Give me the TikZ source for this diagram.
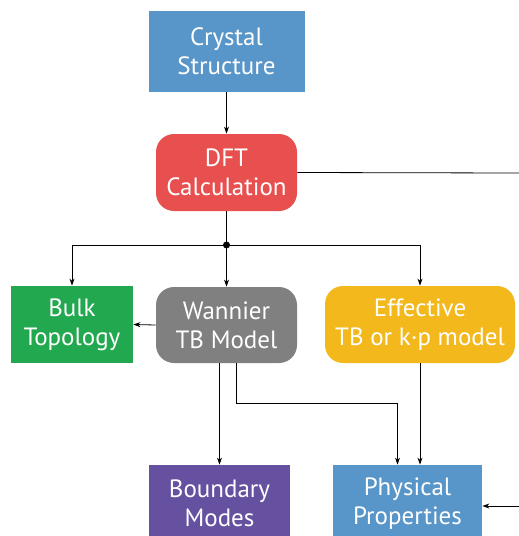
\documentclass[tikz,border=0pt]{standalone}
\usepackage{fontspec}
\setmainfont{PT Sans}
\usetikzlibrary{arrows.meta}

\definecolor{structblue}{HTML}{5895C9}
\definecolor{dftred}{HTML}{E85050}
\definecolor{bulkgreen}{HTML}{22A84F}
\definecolor{wangray}{HTML}{808080}
\definecolor{effyellow}{HTML}{F2B81C}
\definecolor{bndpurple}{HTML}{6650A0}

\tikzset{
  box/.style = {draw = none, text = white, align = center, inner sep = 0pt,
                font = \fontsize{25}{29}\selectfont},
  rbox/.style = {box, rounded corners = 18pt},
  arr/.style = {-{Stealth[length = 7pt, width = 5pt]}},
}

\begin{document}
\begin{tikzpicture}[x = 1pt, y = -1pt, line width = 0.8pt]
\useasboundingbox (0, 0) rectangle (519, 536);

\node[box, fill = structblue, minimum width = 156, minimum height = 81] at (226.5, 51.5) (crystal) {Crystal\\Structure};
\node[rbox, fill = dftred, minimum width = 141, minimum height = 77] at (226.5, 172.5) (dft) {DFT\\Calculation};

\node[box, fill = bulkgreen, minimum width = 122, minimum height = 77] at (72, 324.5) (bulk) {Bulk\\Topology};
\node[rbox, fill = wangray, minimum width = 141, minimum height = 76] at (226.5, 325) (wannier) {Wannier\\TB Model};
\node[rbox, fill = effyellow, minimum width = 190, minimum height = 77] at (420, 324.5) (effective) {Effective\\TB or k·p model};

\node[box, fill = bndpurple, minimum width = 141, minimum height = 77] at (219.5, 503.5) (boundary) {Boundary\\Modes};
\node[box, fill = structblue, minimum width = 149, minimum height = 77] at (407.5, 503.5) (physical) {Physical\\Properties};

\coordinate (split) at (226.5, 245);
\coordinate (dftout) at (519, 173);
\coordinate (physin) at (519, 506);

\draw[arr] (crystal) -- (dft);
\draw (dft) -- (split);
\fill (split) circle (3.5);
\draw[arr] (split) -| (bulk.north);
\draw[arr] (split) -- (wannier.north);
\draw[arr] (split) -| (effective.north);
\draw[arr] (wannier.west) -- (bulk.east);
\draw (dft.east) -- (dftout);

\draw[arr] (wannier.south -| boundary.north) -- (boundary.north);
\draw[arr] ([xshift = 10]wannier.south) |- ++(0, 40) -| ([xshift = -10]physical.north);
\draw[arr] (effective.south) -- (effective.south |- physical.north);
\draw[arr] (physin) -- (physin -| physical.east);

\end{tikzpicture}
\end{document}
